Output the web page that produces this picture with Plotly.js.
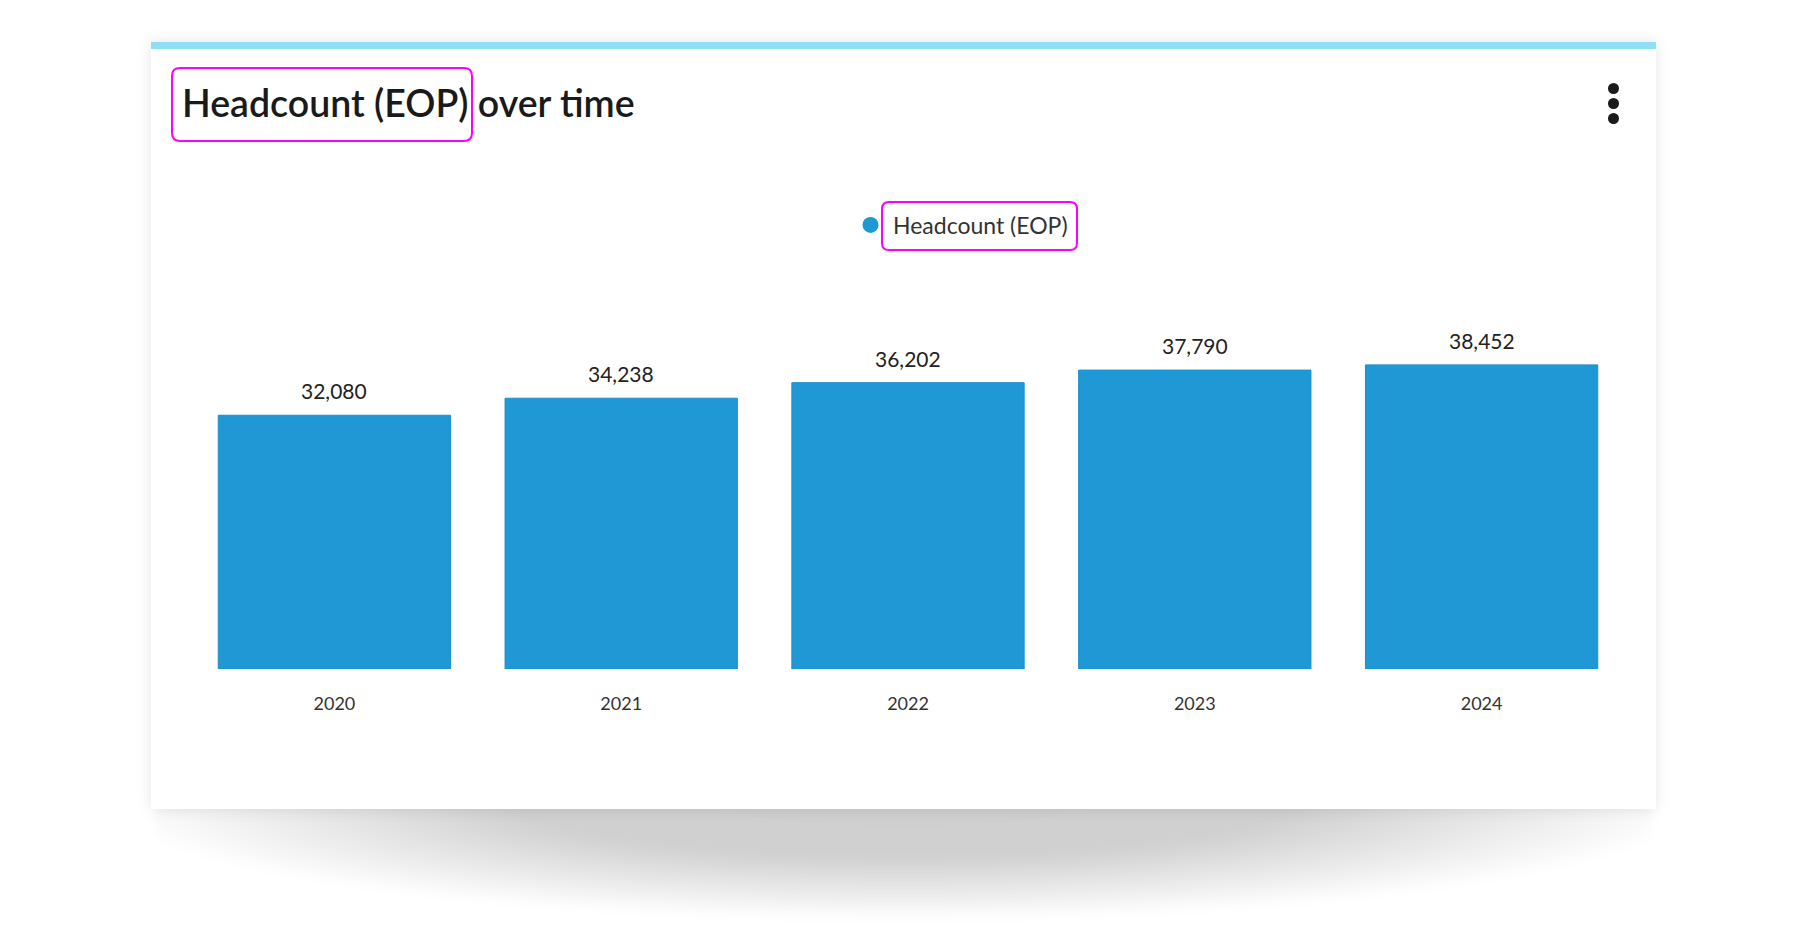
<!DOCTYPE html>
<html>
<head>
<meta charset="utf-8">
<script src="https://cdn.plot.ly/plotly-3.0.1.min.js"></script>
<style>
  html, body { margin:0; padding:0; background:#ffffff; width:1800px; height:941px; overflow:hidden; }
  #shadow { position:absolute; left:155px; top:795px; width:1496px; height:125px;
    background: radial-gradient(ellipse 54% 100% at 50% 0%, rgba(0,0,0,0.19) 0%, rgba(0,0,0,0.185) 50%, rgba(0,0,0,0.0) 100%);
    filter: blur(5px); z-index:0; }
  #card { position:absolute; left:151px; top:42px; width:1505px; height:767px; background:#ffffff;
    box-shadow: 0 0 14px rgba(0,0,0,0.10); z-index:1; }
  #topbar { position:absolute; left:0; top:0; width:100%; height:7px; background:#8ddff6; }
  .dot { position:absolute; width:11px; height:11px; border-radius:50%; background:#1a1a1a; left:1457px; }
  #chart { position:absolute; left:0; top:0; width:1800px; height:941px; z-index:2; }
</style>
</head>
<body>
<div id="shadow"></div>
<div id="card">
  <div id="topbar"></div>
  <div class="dot" style="top:41px"></div>
  <div class="dot" style="top:56px"></div>
  <div class="dot" style="top:71px"></div>
</div>
<div id="chart"></div>
<script>
const categories = ["2020", "2021", "2022", "2023", "2024"];
const headcount = [32080, 34238, 36202, 37790, 38452];
const seriesName = "Headcount (EOP)";
const labels = headcount.map(v => v.toLocaleString("en-US"));

// plot-area geometry (pixels) for converting highlight boxes to paper coords
const PL = 191, PR = 1625, PT = 321, PB = 669;
function px2x(p) { return (p - PL) / (PR - PL); }
function px2y(p) { return (PB - p) / (PB - PT); }
function roundRect(x0, y0, x1, y1, r) {
  const X = v => px2x(v), Y = v => px2y(v);
  return `M ${X(x0 + r)} ${Y(y0)} L ${X(x1 - r)} ${Y(y0)} Q ${X(x1)} ${Y(y0)} ${X(x1)} ${Y(y0 + r)} ` +
         `L ${X(x1)} ${Y(y1 - r)} Q ${X(x1)} ${Y(y1)} ${X(x1 - r)} ${Y(y1)} ` +
         `L ${X(x0 + r)} ${Y(y1)} Q ${X(x0)} ${Y(y1)} ${X(x0)} ${Y(y1 - r)} ` +
         `L ${X(x0)} ${Y(y0 + r)} Q ${X(x0)} ${Y(y0)} ${X(x0 + r)} ${Y(y0)} Z`;
}

const FONT = "Lato, 'Open Sans', sans-serif";
const BAR_COLOR = "#1f98d5";

const barTrace = {
  type: "bar",
  x: categories,
  y: headcount,
  name: seriesName,
  showlegend: false,
  legendgroup: "hc",
  marker: { color: BAR_COLOR, line: { color: "#1b8fcb", width: 1 } },
  hoverinfo: "x+y"
};
// legend entry with a circular symbol (no visible points)
const legendTrace = {
  type: "scatter", mode: "markers",
  x: [null], y: [null],
  name: seriesName, legendgroup: "hc", showlegend: true,
  marker: { symbol: "circle", size: 18, color: BAR_COLOR },
  hoverinfo: "skip"
};

const annotations = categories.map((c, i) => ({
  x: i, y: headcount[i], xref: "x", yref: "y",
  text: labels[i], showarrow: false, yanchor: "bottom", yshift: 10,
  font: { family: FONT, size: 21, color: "#222222" }
}));

const layout = {
  width: 1800, height: 941,
  paper_bgcolor: "rgba(0,0,0,0)", plot_bgcolor: "rgba(0,0,0,0)",
  margin: { l: PL, r: 1800 - PR, t: PT, b: 941 - PB, pad: 0 },
  title: {
    text: "Headcount (EOP) over time",
    xref: "container", yref: "container",
    x: 182 / 1800, xanchor: "left",
    y: 1 - 104 / 941, yanchor: "middle",
    font: { family: FONT, size: 37.5, color: "#1a1a1a", weight: 600 }
  },
  showlegend: true,
  legend: {
    orientation: "h", x: px2x(848), xanchor: "left", y: px2y(225), yanchor: "middle",
    font: { family: FONT, size: 23, color: "#333333" },
    itemwidth: 35,
    bgcolor: "rgba(0,0,0,0)"
  },
  bargap: 0.19,
  xaxis: {
    type: "category", range: [-0.5, categories.length - 0.5],
    showgrid: false, zeroline: false, showline: false,
    ticks: "outside", ticklen: 18, tickcolor: "rgba(0,0,0,0)",
    tickfont: { family: FONT, size: 18, color: "#333333" }
  },
  yaxis: {
    range: [0, 44000], visible: false, showgrid: false, zeroline: false
  },
  annotations: annotations,
  shapes: [
    { type: "path", xref: "paper", yref: "paper", path: roundRect(172, 68, 472, 141, 8),
      line: { color: "#f0f", width: 2 }, fillcolor: "rgba(0,0,0,0)" },
    { type: "path", xref: "paper", yref: "paper", path: roundRect(882, 202, 1077, 250, 7),
      line: { color: "#f0f", width: 2 }, fillcolor: "rgba(0,0,0,0)" }
  ]
};

Plotly.newPlot("chart", [barTrace, legendTrace], layout, { displayModeBar: false });
</script>
</body>
</html>
